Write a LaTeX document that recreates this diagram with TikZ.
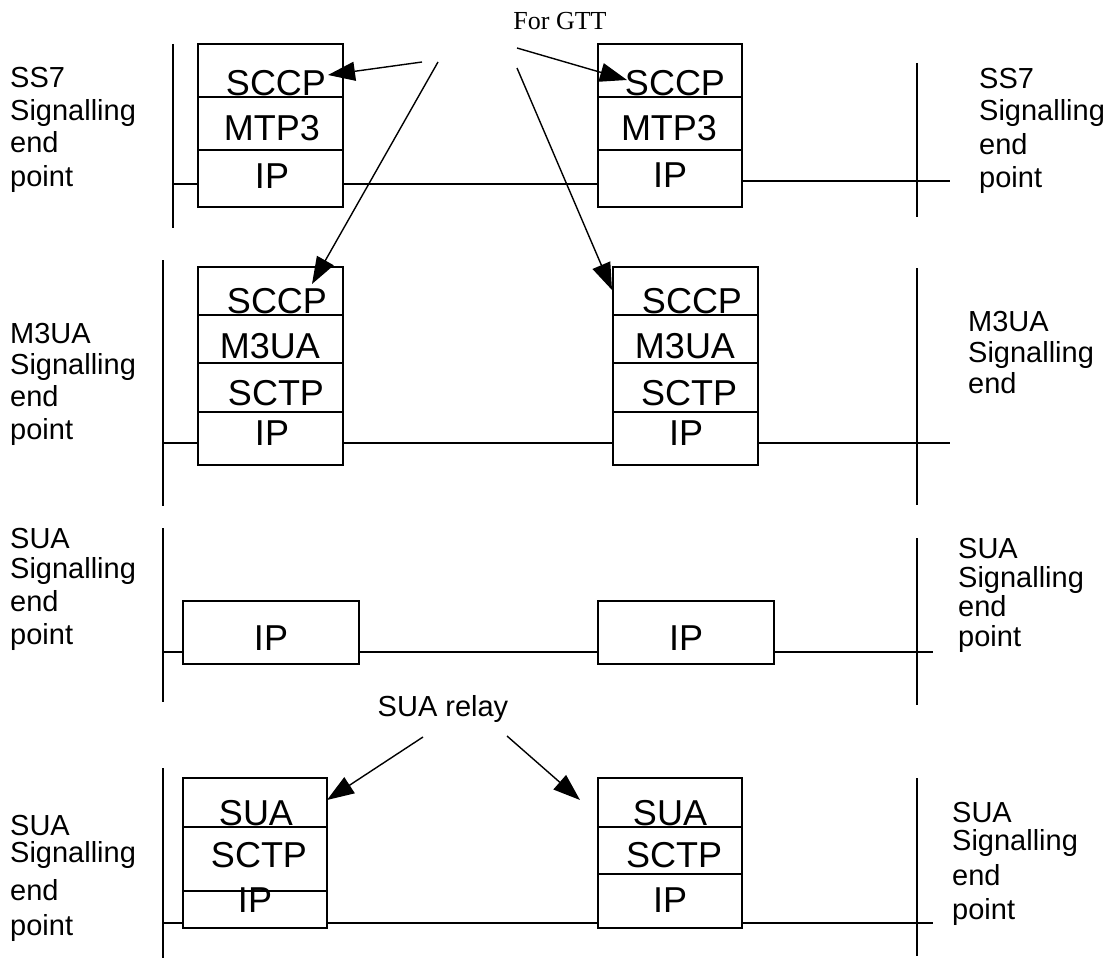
\documentclass[tikz,border=0pt]{standalone}
\usepackage{fontspec}
\setmainfont{Liberation Sans}
\newfontfamily\gttfont{Liberation Serif}
\usetikzlibrary{arrows.meta}
\begin{document}
\begin{tikzpicture}[x=1pt,y=-1pt,
  box/.style={draw, line width=1.8pt, inner sep=0pt, outer sep=0pt},
  layer/.style={font=\fontsize{36}{36}\selectfont, anchor=base, inner sep=0pt},
  lbl/.style={font=\fontsize{29}{29}\selectfont, anchor=base west, inner sep=0pt},
  link/.style={line width=1.4pt},
  bar/.style={line width=2pt},
  arr/.style={line width=1.4pt, -{Triangle[length=27pt,width=19pt]}}]
\useasboundingbox (0,0) rectangle (1116,971);

% ---------- Row 1: SS7 ----------
\node[box, minimum width=145, minimum height=53] (L1a) at (270.5,70.5) {};
\node[box, minimum width=145, minimum height=53] (L1b) at (270.5,123.5) {};
\node[box, minimum width=145, minimum height=57] (L1c) at (270.5,178.5) {};
\node[box, minimum width=144, minimum height=53] (R1a) at (670,70.5) {};
\node[box, minimum width=144, minimum height=53] (R1b) at (670,123.5) {};
\node[box, minimum width=144, minimum height=57] (R1c) at (670,178.5) {};
\node[layer] (t1) at (276,96) {SCCP};
\node[layer] (t2) at (272,141) {MTP3};
\node[layer] (t3) at (272,188) {IP};
\node[layer] (t4) at (675,96) {SCCP};
\node[layer] (t5) at (669,141) {MTP3};
\node[layer] (t6) at (670,187) {IP};
\coordinate (lv1t) at (173,44); \coordinate (lv1b) at (173,228);
\coordinate (rv1t) at (917,63); \coordinate (rv1b) at (917,217);
\draw[bar] (lv1t) -- (lv1b);
\draw[bar] (rv1t) -- (rv1b);
\coordinate (k1a) at (173,184);
\coordinate (k1b) at (950,181);
\draw[link] (k1a) -- (k1a -| L1c.west);
\draw[link] (k1a -| L1c.east) -- (k1a -| R1c.west);
\draw[link] (k1b -| R1c.east) -- (k1b);
\node[lbl] (s1a) at (10,88) {SS7};
\node[lbl] (s1b) at (10,121) {Signalling};
\node[lbl] (s1c) at (10,153) {end};
\node[lbl] (s1d) at (10,186) {point};
\node[lbl] (s2a) at (979,89) {SS7};
\node[lbl] (s2b) at (979,121) {Signalling};
\node[lbl] (s2c) at (979,154) {end};
\node[lbl] (s2d) at (979,187) {point};

% ---------- Row 2: M3UA ----------
\node[box, minimum width=145, minimum height=48] (L2a) at (270.5,291) {};
\node[box, minimum width=145, minimum height=48] (L2b) at (270.5,339) {};
\node[box, minimum width=145, minimum height=49] (L2c) at (270.5,387.5) {};
\node[box, minimum width=145, minimum height=53] (L2d) at (270.5,438.5) {};
\node[box, minimum width=145, minimum height=48] (R2a) at (685.5,291) {};
\node[box, minimum width=145, minimum height=48] (R2b) at (685.5,339) {};
\node[box, minimum width=145, minimum height=49] (R2c) at (685.5,387.5) {};
\node[box, minimum width=145, minimum height=53] (R2d) at (685.5,438.5) {};
\node[layer] (u1) at (277,313) {SCCP};
\node[layer] (u2) at (270,358) {M3UA};
\node[layer] (u3) at (276,405) {SCTP};
\node[layer] (u4) at (272,445) {IP};
\node[layer] (u5) at (692,313) {SCCP};
\node[layer] (u6) at (685,358) {M3UA};
\node[layer] (u7) at (689,405) {SCTP};
\node[layer] (u8) at (686,445) {IP};
\coordinate (lv2t) at (163,260); \coordinate (lv2b) at (163,506);
\coordinate (rv2t) at (917,268); \coordinate (rv2b) at (917,505);
\draw[bar] (lv2t) -- (lv2b);
\draw[bar] (rv2t) -- (rv2b);
\coordinate (k2a) at (163,443);
\coordinate (k2b) at (950,443);
\draw[link] (k2a) -- (k2a -| L2d.west);
\draw[link] (k2a -| L2d.east) -- (k2a -| R2d.west);
\draw[link] (k2b -| R2d.east) -- (k2b);
\node[lbl] (m1a) at (10,343) {M3UA};
\node[lbl] (m1b) at (10,374) {Signalling};
\node[lbl] (m1c) at (10,406) {end};
\node[lbl] (m1d) at (10,439) {point};
\node[lbl] (m2a) at (968,331) {M3UA};
\node[lbl] (m2b) at (968,362) {Signalling};
\node[lbl] (m2c) at (968,393) {end};

% ---------- Row 3: SUA over IP ----------
\node[box, minimum width=176, minimum height=63] (L3) at (271,632.5) {};
\node[box, minimum width=176, minimum height=63] (R3) at (686,632.5) {};
\node[layer] (v1) at (271,650) {IP};
\node[layer] (v2) at (686,650) {IP};
\coordinate (lv3t) at (163,528); \coordinate (lv3b) at (163,702);
\coordinate (rv3t) at (917,538); \coordinate (rv3b) at (917,705);
\draw[bar] (lv3t) -- (lv3b);
\draw[bar] (rv3t) -- (rv3b);
\coordinate (k3a) at (163,652);
\coordinate (k3b) at (933,652);
\draw[link] (k3a) -- (k3a -| L3.west);
\draw[link] (k3a -| L3.east) -- (k3a -| R3.west);
\draw[link] (k3b -| R3.east) -- (k3b);
\node[lbl] (p1a) at (10,548) {SUA};
\node[lbl] (p1b) at (10,578) {Signalling};
\node[lbl] (p1c) at (10,611) {end};
\node[lbl] (p1d) at (10,644) {point};
\node[lbl] (p2a) at (958,558) {SUA};
\node[lbl] (p2b) at (958,587) {Signalling};
\node[lbl] (p2c) at (958,616) {end};
\node[lbl] (p2d) at (958,646) {point};

% ---------- Row 4: SUA ----------
\node[box, minimum width=144, minimum height=49] (L4a) at (255,802.5) {};
\node[box, minimum width=144, minimum height=64] (L4b) at (255,859) {};
\node[box, minimum width=144, minimum height=37] (L4c) at (255,909.5) {};
\node[box, minimum width=144, minimum height=49] (R4a) at (670,802.5) {};
\node[box, minimum width=144, minimum height=47] (R4b) at (670,850.5) {};
\node[box, minimum width=144, minimum height=54] (R4c) at (670,901) {};
\node[layer] (w1) at (256,825) {SUA};
\node[layer] (w2) at (259,867) {SCTP};
\node[layer] (w3) at (255,912) {IP};
\node[layer] (w4) at (670,825) {SUA};
\node[layer] (w5) at (674,867) {SCTP};
\node[layer] (w6) at (670,912) {IP};
\coordinate (lv4t) at (163,768); \coordinate (lv4b) at (163,958);
\coordinate (rv4t) at (917,778); \coordinate (rv4b) at (917,956);
\draw[bar] (lv4t) -- (lv4b);
\draw[bar] (rv4t) -- (rv4b);
\coordinate (k4a) at (163,923);
\coordinate (k4b) at (933,923);
\draw[link] (k4a) -- (k4a -| L4c.west);
\draw[link] (k4a -| L4c.east) -- (k4a -| R4c.west);
\draw[link] (k4b -| R4c.east) -- (k4b);
\node[lbl] (q1a) at (10,835) {SUA};
\node[lbl] (q1b) at (10,862) {Signalling};
\node[lbl] (q1c) at (10,900) {end};
\node[lbl] (q1d) at (10,935) {point};
\node[lbl] (q2a) at (952,822) {SUA};
\node[lbl] (q2b) at (952,850) {Signalling};
\node[lbl] (q2c) at (952,885) {end};
\node[lbl] (q2d) at (952,919) {point};

% ---------- Annotations ----------
\node[font=\gttfont\fontsize{26}{26}\selectfont, anchor=base, inner sep=0pt] (gtt) at (560,30) {For GTT};
\coordinate (g1) at (422,62); \coordinate (g1t) at (328,75);
\coordinate (g2) at (438,62); \coordinate (g2t) at (312,284);
\coordinate (g3) at (517,68); \coordinate (g3t) at (612,290);
\coordinate (g4) at (517,48); \coordinate (g4t) at (627,80);
\draw[arr] (g1) -- (g1t);
\draw[arr] (g2) -- (g2t);
\draw[arr] (g3) -- (g3t);
\draw[arr] (g4) -- (g4t);
\node[font=\fontsize{29}{29}\selectfont, anchor=base, inner sep=0pt] (relay) at (443,716) {SUA relay};
\coordinate (r1) at (423,737); \coordinate (r1t) at (327,800);
\coordinate (r2) at (507,736); \coordinate (r2t) at (580,800);
\draw[arr] (r1) -- (r1t);
\draw[arr] (r2) -- (r2t);
\end{tikzpicture}
\end{document}
